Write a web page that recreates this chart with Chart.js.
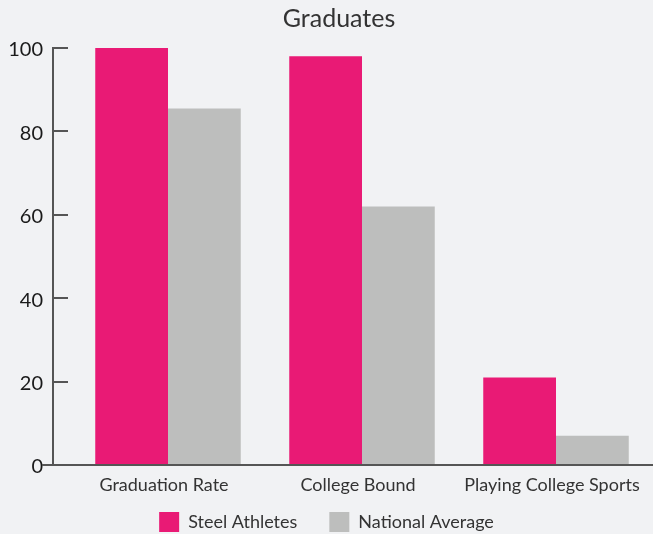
<!DOCTYPE html>
<html><head><meta charset="utf-8">
<script src="https://cdn.jsdelivr.net/npm/chart.js@4/dist/chart.umd.min.js"></script>
<style>html,body{margin:0;padding:0;background:#f1f2f4;overflow:hidden;}</style>
</head><body><canvas id="c" width="653" height="534"></canvas>
<script>
const categories = ["Graduation Rate", "College Bound", "Playing College Sports"];
const steelAthletes = [100, 98, 21];
const nationalAverage = [85.5, 62, 7];
const yTicks = [0, 20, 40, 60, 80, 100];
const seriesNames = ["Steel Athletes", "National Average"];

const FONT = "Lato, 'Open Sans', sans-serif";
const PINK = "#e91a75";
const GRAY = "#bdbebd";

const axisPlugin = {
  id: 'customAxes',
  afterLayout(chart) {
    // title is centred a little right of the canvas centre in the reference
    if (chart.titleBlock) { chart.titleBlock.left = 25; }
    // legend sits closer to the axis labels than its wide item padding would give
    if (chart.legend) { chart.legend.top -= 20; chart.legend.bottom -= 20; }
  },
  afterDatasetsDraw(chart) {
    const ctx = chart.ctx, y = chart.scales.y;
    const ax = 53;
    const top = y.getPixelForValue(100), bot = y.getPixelForValue(0);
    ctx.save();
    ctx.strokeStyle = '#555';
    ctx.lineWidth = 2;
    ctx.beginPath();
    ctx.moveTo(ax, top - 1); ctx.lineTo(ax, bot);
    yTicks.forEach(v => { const py = Math.round(y.getPixelForValue(v)); ctx.moveTo(ax, py); ctx.lineTo(ax + 15, py); });
    ctx.moveTo(42, bot); ctx.lineTo(chart.width, bot);
    ctx.stroke();
    ctx.restore();
  }
};

new Chart(document.getElementById('c'), {
  type: 'bar',
  data: {
    labels: categories,
    datasets: [
      { label: seriesNames[0], data: steelAthletes, backgroundColor: PINK },
      { label: seriesNames[1], data: nationalAverage, backgroundColor: GRAY }
    ]
  },
  options: {
    responsive: false,
    animation: false,
    layout: { padding: { top: 0, right: 0, bottom: -28, left: 0 } },
    datasets: { bar: { categoryPercentage: 0.75, barPercentage: 1 } },
    plugins: {
      title: { display: true, text: 'Graduates', color: '#333', font: { family: FONT, size: 25, weight: 'normal' }, padding: { top: 4, bottom: 14 } },
      legend: { position: 'bottom', labels: { color: '#333', font: { family: FONT, size: 18 }, boxWidth: 20, boxHeight: 20, padding: 32 } },
      tooltip: { enabled: false }
    },
    scales: {
      x: {
        afterFit: s => { s.height = 35; },
        grid: { display: false, drawTicks: false }, border: { display: false },
        ticks: { color: '#333', font: { family: FONT, size: 18 }, padding: 9, maxRotation: 0, labelOffset: -4 }
      },
      y: {
        min: 0, max: 100,
        afterBuildTicks: s => { s.ticks = yTicks.map(v => ({ value: v })); },
        afterFit: s => { s.width = 71; },
        grid: { display: false, drawTicks: false }, border: { display: false },
        ticks: { color: '#1a1a1a', font: { family: FONT, size: 20 }, padding: 28, labelOffset: 2 }
      }
    }
  },
  plugins: [axisPlugin]
});
</script>
</body></html>
